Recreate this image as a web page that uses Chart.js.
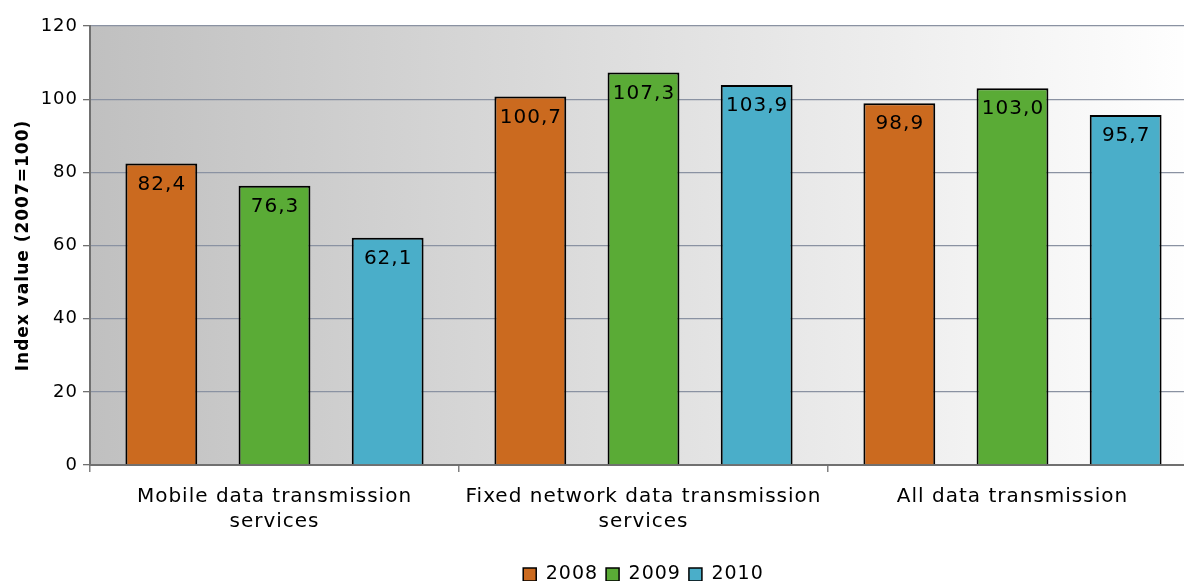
<!DOCTYPE html>
<html>
<head>
<meta charset="utf-8">
<script src="https://cdn.jsdelivr.net/npm/chart.js@4"></script>
<style>
  html, body { margin: 0; padding: 0; background: #ffffff; overflow: hidden; }
  #wrap { width: 1200px; height: 594px; }
</style>
</head>
<body>
<div id="wrap"><canvas id="c"></canvas></div>
<script>
const categories = [
  ['Mobile data transmission', 'services'],
  ['Fixed network data transmission', 'services'],
  'All data transmission'
];
const years = ['2008', '2009', '2010'];
const values2008 = [82.4, 100.7, 98.9];
const values2009 = [76.3, 107.3, 103.0];
const values2010 = [62.1, 103.9, 95.7];
const yTicks = [0, 20, 40, 60, 80, 100, 120];

const colors = ['#cb6a1f', '#5aab36', '#4aaec9'];
const font = 'DejaVu Sans';

// Slightly open letter spacing for all chart text
const spacing = {
  id: 'spacing',
  beforeUpdate(chart) { chart.ctx.letterSpacing = '1px'; },
  beforeLayout(chart) { chart.ctx.letterSpacing = '1px'; },
  beforeDraw(chart) { chart.ctx.letterSpacing = '1px'; }
};

// Grey-to-white horizontal gradient behind the plot area
const plotBackground = {
  id: 'plotBackground',
  beforeDraw(chart) {
    const { ctx, chartArea: a } = chart;
    const g = ctx.createLinearGradient(a.left, 0, a.right, 0);
    g.addColorStop(0, '#c0c0c0');
    g.addColorStop(1, '#ffffff');
    ctx.save();
    ctx.fillStyle = g;
    ctx.fillRect(a.left, a.top, a.right - a.left, a.bottom - a.top);
    ctx.restore();
  }
};

// Value labels just inside the top of each bar, decimal comma
const valueLabels = {
  id: 'valueLabels',
  afterDatasetsDraw(chart) {
    const { ctx } = chart;
    ctx.save();
    ctx.font = '20px "' + font + '"';
    ctx.fillStyle = '#000000';
    ctx.textAlign = 'center';
    ctx.textBaseline = 'middle';
    chart.data.datasets.forEach((ds, i) => {
      chart.getDatasetMeta(i).data.forEach((bar, j) => {
        const txt = ds.data[j].toFixed(1).replace('.', ',');
        ctx.fillText(txt, bar.x + 0.5, bar.y + 21);
      });
    });
    ctx.restore();
  }
};

new Chart(document.getElementById('c'), {
  type: 'bar',
  data: {
    labels: categories,
    datasets: [
      { label: years[0], data: values2008, backgroundColor: colors[0] },
      { label: years[1], data: values2009, backgroundColor: colors[1] },
      { label: years[2], data: values2010, backgroundColor: colors[2] }
    ].map(d => Object.assign(d, { borderColor: '#000000', borderWidth: 2 }))
  },
  options: {
    responsive: true,
    maintainAspectRatio: false,
    animation: false,
    layout: { padding: { top: 26, right: 3, left: 13, bottom: 0 } },
    datasets: { bar: { categoryPercentage: 0.92, barPercentage: 0.635 } },
    plugins: {
      legend: {
        position: 'bottom',
        fullSize: false,
        labels: {
          font: { family: font, size: 19 },
          color: '#000000',
          boxWidth: 13,
          boxHeight: 13,
          padding: 8,
          generateLabels(chart) {
            return Chart.defaults.plugins.legend.labels.generateLabels(chart).map(l =>
              Object.assign(l, { lineWidth: 1.5, strokeStyle: '#000000' }));
          }
        }
      },
      tooltip: { enabled: false }
    },
    scales: {
      x: {
        grid: { drawOnChartArea: false, tickLength: 7, color: '#808080', lineWidth: 1.5, offset: true },
        border: { color: '#707070', width: 2 },
        ticks: { font: { family: font, size: 20, lineHeight: 1.25 }, color: '#000000', padding: 12, maxRotation: 0 },
        afterFit(s) { s.height = 92; }
      },
      y: {
        min: 0,
        max: 120,
        afterBuildTicks(s) { s.ticks = yTicks.map(v => ({ value: v })); },
        grid: { color: '#8a92a2', lineWidth: 1.3, tickLength: 7, tickColor: '#707070' },
        border: { color: '#707070', width: 2 },
        ticks: { font: { family: font, size: 18 }, color: '#000000', padding: 5 },
        title: {
          display: true,
          text: 'Index value (2007=100)',
          font: { family: font, size: 17, weight: 'bold' },
          color: '#000000',
          padding: { top: 0, bottom: 6 }
        },
        afterFit(s) { s.width = 77; }
      }
    }
  },
  plugins: [spacing, plotBackground, valueLabels]
});
</script>
</body>
</html>
